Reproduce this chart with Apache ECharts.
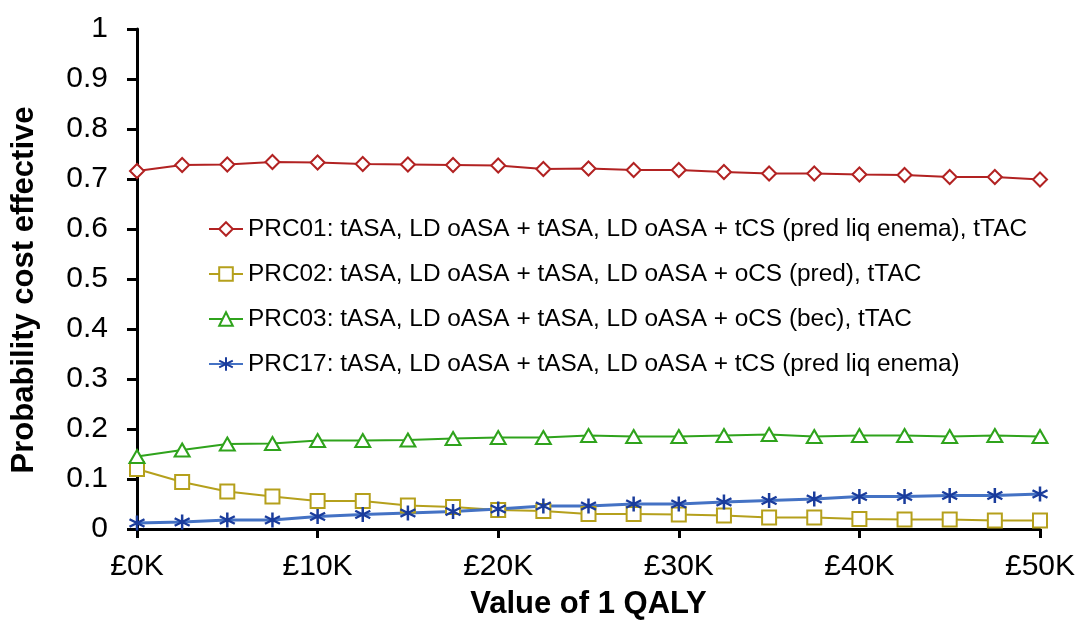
<!DOCTYPE html>
<html>
<head>
<meta charset="utf-8">
<script src="https://cdn.jsdelivr.net/npm/echarts@6/dist/echarts.min.js"></script>
<style>
html,body{margin:0;padding:0;background:#fff;}
#chart{width:1081px;height:625px;}
</style>
</head>
<body>
<div id="chart"></div>
<script>
// Data
const wtp = [0, 2500, 5000, 7500, 10000, 12500, 15000, 17500, 20000, 22500, 25000,
             27500, 30000, 32500, 35000, 37500, 40000, 42500, 45000, 47500, 50000];
const seriesNames = [
  'PRC01: tASA, LD oASA + tASA, LD oASA + tCS (pred liq enema), tTAC',
  'PRC02: tASA, LD oASA + tASA, LD oASA + oCS (pred), tTAC',
  'PRC03: tASA, LD oASA + tASA, LD oASA + oCS (bec), tTAC',
  'PRC17: tASA, LD oASA + tASA, LD oASA + tCS (pred liq enema)'
];
const prc01 = [0.716, 0.728, 0.729, 0.734, 0.733, 0.730, 0.729, 0.728, 0.727, 0.720, 0.721,
               0.718, 0.718, 0.714, 0.711, 0.711, 0.709, 0.708, 0.704, 0.704, 0.699];
const prc02 = [0.120, 0.094, 0.075, 0.065, 0.056, 0.056, 0.047, 0.044, 0.038, 0.036, 0.030,
               0.030, 0.029, 0.027, 0.023, 0.023, 0.020, 0.019, 0.019, 0.017, 0.017];
const prc03 = [0.145, 0.158, 0.170, 0.171, 0.177, 0.177, 0.178, 0.181, 0.183, 0.183, 0.187,
               0.185, 0.185, 0.187, 0.189, 0.185, 0.187, 0.187, 0.185, 0.187, 0.185];
const prc17 = [0.012, 0.014, 0.018, 0.018, 0.025, 0.029, 0.032, 0.035, 0.040, 0.046, 0.046,
               0.050, 0.050, 0.054, 0.057, 0.060, 0.065, 0.065, 0.067, 0.067, 0.070];
const xTitle = 'Value of 1 QALY';
const yTitle = 'Probability cost effective';

const FONT = '"Liberation Sans", Arial, Helvetica, sans-serif';
const pairs = arr => arr.map((v, i) => [wtp[i], v]);
const starPath = 'path://M5 0 L5 10 M0.7 2.5 L9.3 7.5 M0.7 7.5 L9.3 2.5';

const chart = echarts.init(document.getElementById('chart'), null, {renderer: 'canvas'});
chart.setOption({
  animation: false,
  backgroundColor: '#ffffff',
  grid: {left: 137, right: 41, top: 29, bottom: 93, containLabel: false},
  legend: {
    orient: 'vertical',
    left: 203,
    top: 212,
    itemWidth: 34,
    itemHeight: 17,
    itemGap: 21,
    textStyle: {fontFamily: FONT, fontSize: 24.4, color: '#000', lineHeight: 24},
    data: seriesNames
  },
  xAxis: {
    type: 'value',
    min: 0, max: 50000, interval: 10000,
    name: xTitle,
    nameLocation: 'middle',
    nameGap: 60,
    nameTextStyle: {fontFamily: FONT, fontSize: 31, fontWeight: 'bold', color: '#000'},
    axisLine: {show: true, onZero: false, lineStyle: {color: '#000', width: 3}},
    axisTick: {show: true, inside: false, length: 9, lineStyle: {color: '#000', width: 3}},
    axisLabel: {fontFamily: FONT, fontSize: 30, color: '#000', margin: 23,
                formatter: v => '£' + (v / 1000) + 'K'},
    splitLine: {show: false}
  },
  yAxis: {
    type: 'value',
    min: 0, max: 1, interval: 0.1,
    name: yTitle,
    nameLocation: 'middle',
    nameGap: 97,
    nameRotate: 90,
    nameTextStyle: {fontFamily: FONT, fontSize: 31, fontWeight: 'bold', color: '#000',
                    padding: [0, 22, 0, 0]},
    axisLine: {show: true, onZero: false, lineStyle: {color: '#000', width: 3}},
    axisTick: {show: true, inside: false, length: 10, lineStyle: {color: '#000', width: 3}},
    axisLabel: {fontFamily: FONT, fontSize: 30, color: '#000', margin: 29,
                formatter: v => String(Math.round(v * 10) / 10)},
    splitLine: {show: false}
  },
  series: [
    {
      name: seriesNames[0], type: 'line', data: pairs(prc01),
      symbol: 'diamond', symbolSize: 14, showAllSymbol: true,
      lineStyle: {color: '#B22222', width: 2},
      itemStyle: {color: '#ffffff', borderColor: '#B22222', borderWidth: 2}
    },
    {
      name: seriesNames[1], type: 'line', data: pairs(prc02),
      symbol: 'rect', symbolSize: 14, showAllSymbol: true,
      lineStyle: {color: '#B5A01C', width: 2},
      itemStyle: {color: '#ffffff', borderColor: '#B5A01C', borderWidth: 2}
    },
    {
      name: seriesNames[2], type: 'line', data: pairs(prc03),
      symbol: 'triangle', symbolSize: [15, 13], showAllSymbol: true,
      lineStyle: {color: '#2FA31C', width: 2},
      itemStyle: {color: '#ffffff', borderColor: '#2FA31C', borderWidth: 2}
    },
    {
      name: seriesNames[3], type: 'line', data: pairs(prc17),
      symbol: starPath, symbolSize: 15, showAllSymbol: true,
      lineStyle: {color: '#4472C4', width: 3},
      itemStyle: {color: '#1A3C9C', borderColor: '#1A3C9C', borderWidth: 2.5}
    }
  ]
});
</script>
</body>
</html>
